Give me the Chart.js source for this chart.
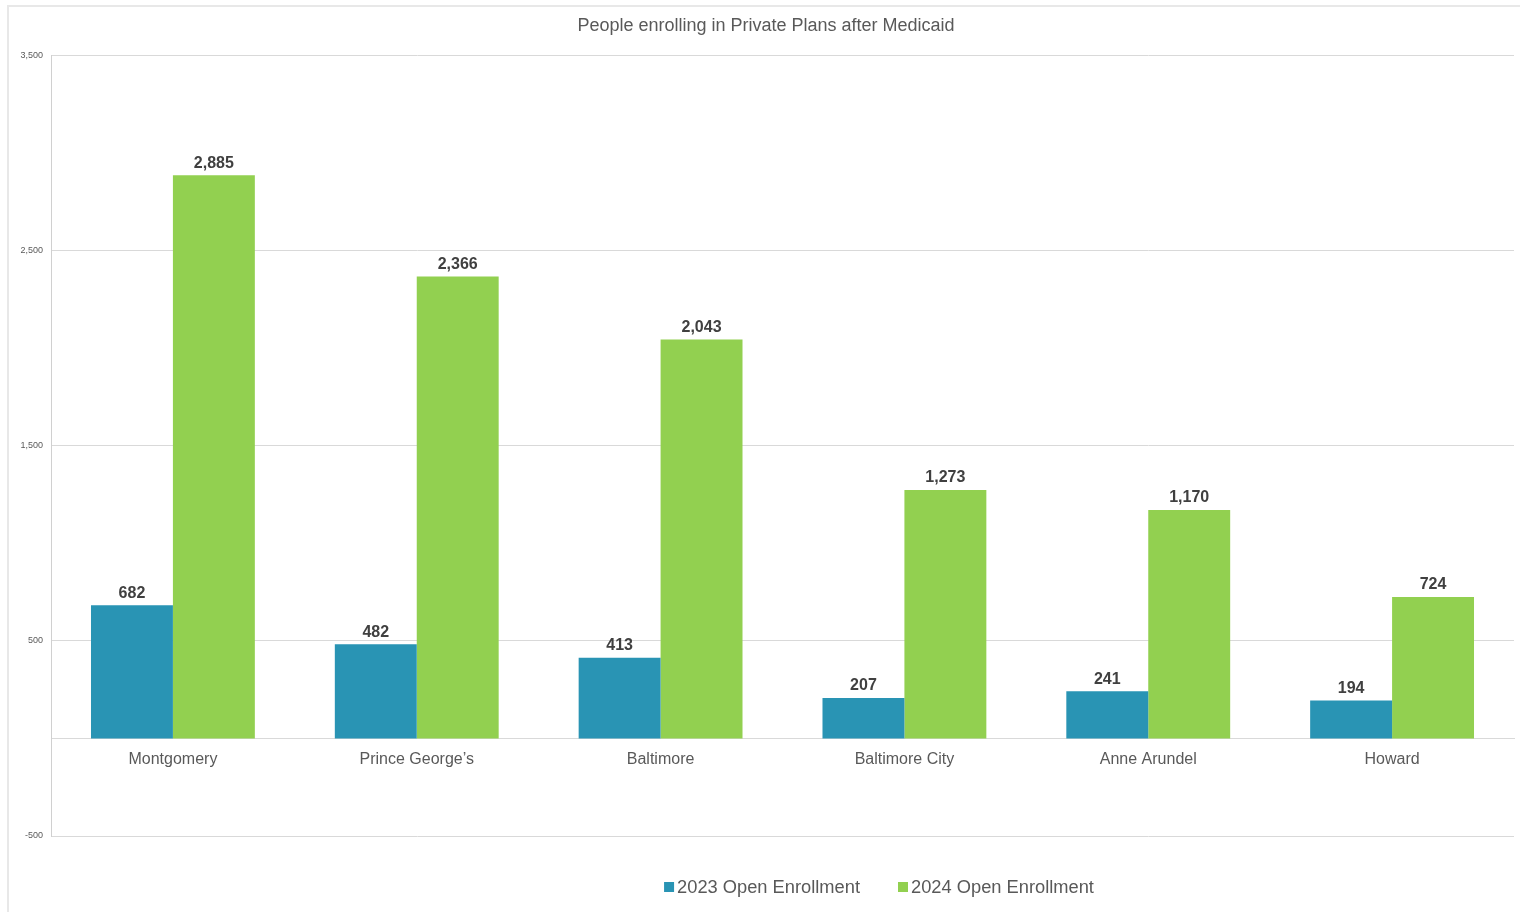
<!DOCTYPE html>
<html>
<head>
<meta charset="utf-8">
<script src="https://cdn.jsdelivr.net/npm/chart.js@4.4.1/dist/chart.umd.min.js"></script>
<style>
  html, body { margin: 0; padding: 0; background: #ffffff; overflow: hidden; width: 1520px; height: 912px; }
  #frame { position: absolute; left: 7px; top: 5px; width: 1600px; height: 1000px; border: 2px solid #e8e8e8; box-sizing: border-box; }
  #c { position: absolute; left: 0; top: 0; }
</style>
</head>
<body>
<div id="frame"></div>
<canvas id="c" width="1532" height="912"></canvas>
<script>
const categories = ["Montgomery", "Prince George\u2019s", "Baltimore", "Baltimore City", "Anne Arundel", "Howard"];
const seriesNames = ["2023 Open Enrollment", "2024 Open Enrollment"];
const values2023 = [682, 482, 413, 207, 241, 194];
const values2024 = [2885, 2366, 2043, 1273, 1170, 724];
const yTicks = [-500, 500, 1500, 2500, 3500];
const chartTitle = "People enrolling in Private Plans after Medicaid";

const FONT = "'Liberation Sans', Arial, Helvetica, sans-serif";
const COLORS = ["#2994B4", "#92D050"];

const dataLabels = {
  id: 'dataLabels',
  afterDatasetsDraw(chart) {
    const ctx = chart.ctx;
    ctx.save();
    ctx.font = "bold 16px " + FONT;
    ctx.fillStyle = "#404040";
    ctx.textAlign = "center";
    ctx.textBaseline = "middle";
    chart.data.datasets.forEach((ds, di) => {
      const meta = chart.getDatasetMeta(di);
      meta.data.forEach((el, i) => {
        ctx.fillText(ds.data[i].toLocaleString('en-US'), el.x, el.y - 12);
      });
    });
    ctx.restore();
  }
};

const customLegend = {
  id: 'customLegend',
  afterDraw(chart) {
    const ctx = chart.ctx;
    ctx.save();
    ctx.font = "18.3px " + FONT;
    ctx.textBaseline = "middle";
    const box = 10, gapText = 3, gapItem = 38;
    const items = chart.data.datasets.map(ds => ({ label: ds.label, color: ds.backgroundColor, w: ctx.measureText(ds.label).width }));
    let total = 0;
    items.forEach((it, i) => { total += box + gapText + it.w + (i < items.length - 1 ? gapItem : 0); });
    let x = 879 - total / 2;
    const cy = 887;
    items.forEach(it => {
      ctx.fillStyle = it.color;
      ctx.fillRect(x, cy - box / 2, box, box);
      x += box + gapText;
      ctx.fillStyle = "#595959";
      ctx.fillText(it.label, x, cy + 1);
      x += it.w + gapItem;
    });
    ctx.restore();
  }
};

new Chart(document.getElementById('c'), {
  type: 'bar',
  data: {
    labels: categories,
    datasets: [
      { label: seriesNames[0], data: values2023, backgroundColor: COLORS[0], borderWidth: 0 },
      { label: seriesNames[1], data: values2024, backgroundColor: COLORS[1], borderWidth: 0 }
    ]
  },
  options: {
    responsive: false,
    devicePixelRatio: 1,
    animation: false,
    layout: { padding: { left: 18, right: 18, top: 0, bottom: 76 } },
    datasets: { bar: { barPercentage: 1.0, categoryPercentage: 0.672 } },
    plugins: {
      legend: { display: false },
      tooltip: { enabled: false },
      title: {
        display: true,
        text: chartTitle,
        color: "#595959",
        font: { family: FONT, size: 18, weight: 'normal' },
        padding: { top: 15, bottom: 18.6 }
      }
    },
    scales: {
      x: {
        position: { y: 0 },
        grid: { display: false, drawTicks: false },
        border: { display: true, color: "#d9d9d9", width: 1 },
        ticks: { color: "#595959", font: { family: FONT, size: 16 }, padding: 12 }
      },
      y: {
        min: -500,
        max: 3500,
        afterBuildTicks(scale) { scale.ticks = yTicks.map(v => ({ value: v })); },
        afterFit(scale) { scale.width = 33; },
        grid: { color: "#d9d9d9", drawTicks: false, lineWidth: 1 },
        border: { display: true, color: "#d0d0d0", width: 1 },
        ticks: {
          color: "#595959",
          font: { family: FONT, size: 9 },
          padding: 8,
          callback: (v) => Number(v).toLocaleString('en-US')
        }
      }
    }
  },
  plugins: [dataLabels, customLegend]
});
</script>
</body>
</html>
